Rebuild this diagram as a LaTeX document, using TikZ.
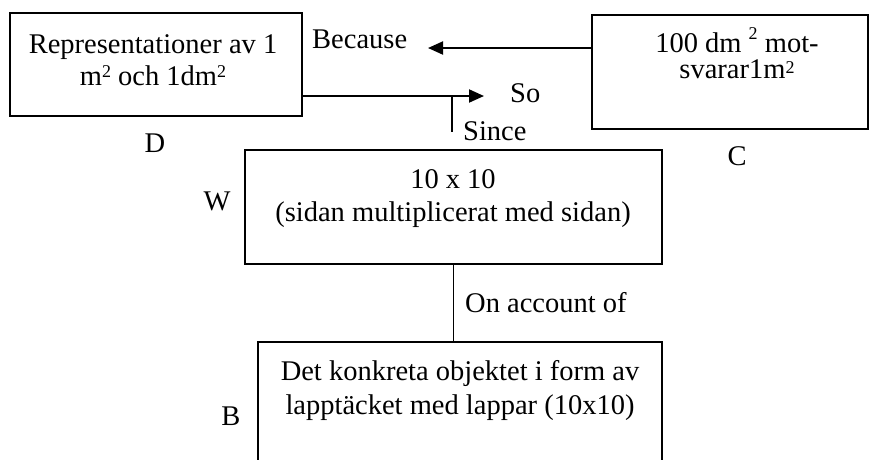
\documentclass[tikz,border=0pt]{standalone}
\usepackage{fontspec}
\setmainfont{Liberation Serif}
\usetikzlibrary{arrows.meta}
\newcommand{\twoline}[3]{\vtop{\baselineskip=#1\lineskiplimit=-1000pt\relax\tabskip=0pt\halign{\hfil##\hfil\cr #2\cr #3\cr}}}
\newcommand{\sqr}[1]{\raisebox{#1}{\fontsize{18}{18}\selectfont 2}}
\tikzset{
  boxstyle/.style={draw, line width=2pt, rectangle, inner sep=0pt},
  openbox/.style={rectangle, inner sep=0pt},
  txt/.style={inner sep=0pt, anchor=base, font=\fontsize{28.5}{33}\selectfont},
  lbl/.style={inner sep=0pt, anchor=base west, font=\fontsize{28.5}{33}\selectfont},
  arr/.style={line width=2pt, -{Triangle[length=15pt,width=13pt]}},
  thinline/.style={line width=1.4pt}
}
\begin{document}
\begin{tikzpicture}[x=1pt,y=-1pt]
\useasboundingbox (0,0) rectangle (869,459);
% boxes
\node[boxstyle, minimum width=292pt, minimum height=103pt] (D) at (156,64.5) {};
\node[boxstyle, minimum width=276pt, minimum height=114pt] (C) at (730,72) {};
\node[boxstyle, minimum width=417pt, minimum height=114pt] (W) at (453.5,207) {};
\node[openbox, minimum width=404pt, minimum height=118pt] (B) at (460,401) {};
\draw[line width=2pt] (B.south west) -- (B.north west) -- (B.north east) -- (B.south east);
% box texts
\node[txt] (Dtext) at (153,53) {\twoline{32pt}{Representationer av 1}{m\sqr{8pt} och 1dm\sqr{8pt}}};
\node[txt] (Ctext) at (737,52) {\twoline{26pt}{100 dm \sqr{13pt} mot-}{svarar1m\sqr{5pt}}};
\node[txt] (Wtext) at (453,188) {\twoline{33pt}{10 x 10}{(sidan multiplicerat med sidan)}};
\node[txt] (Btext) at (460,380) {\twoline{34pt}{Det konkreta objektet i form av}{lapptäcket med lappar (10x10)}};
% letter labels
\node[txt] (Dl) at (155,152) {D};
\node[txt] (Cl) at (737,165) {C};
\node[txt] (Wl) at (217,210) {W};
\node[txt] (Bl) at (231,425) {B};
% connector labels
\node[lbl] (because) at (312,48) {Because};
\node[lbl] (so) at (510,102) {So};
\node[lbl] (since) at (463,140) {Since};
\node[lbl] (onaccount) at (465,312) {On account of};
% connectors
\coordinate (becauseTip) at (428,48);
\coordinate (soTip) at (484,96);
\coordinate (sinceTop) at (452,96);
\coordinate (sinceBot) at (452,132);
\draw[arr] (C.west |- becauseTip) -- (becauseTip);
\draw[arr] (D.east |- soTip) -- (soTip);
\draw[thinline] (sinceTop) -- (sinceBot);
\draw[thinline] (W.south) -- (W.south |- B.north);
\end{tikzpicture}
\end{document}
